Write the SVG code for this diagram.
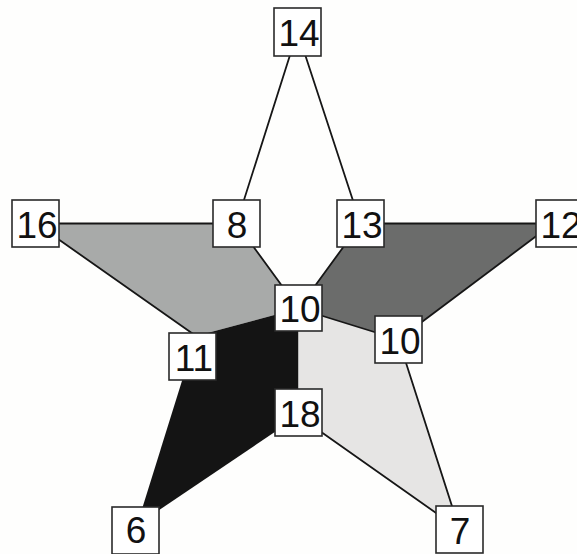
<svg xmlns="http://www.w3.org/2000/svg" width="577" height="554" viewBox="0 0 577 554">
<style>
.box{fill:#ffffff;stroke:#2a2a2a;stroke-width:1.6}
.lbl{font-family:"Liberation Sans",Arial,sans-serif;font-size:37px;fill:#111;text-anchor:middle}
.edge{stroke:#161616;stroke-width:1.8;fill:none;stroke-linecap:round}
</style>
<rect x="0" y="0" width="577" height="554" fill="#fefefd"/>
<g id="faces">
<polygon points="36,223.5 236.5,223.5 298.5,308.5 196,336" fill="#a8aaa9"/>
<polygon points="360.5,223.5 553,223.5 398.5,339.5 298.5,308.5" fill="#6b6c6b"/>
<polygon points="196,336 298.5,308.5 298.5,416 137,525" fill="#141414"/>
<polygon points="298.5,308.5 398.5,339.5 459.5,529.5 298.5,416" fill="#e6e5e4"/>
</g>
<g id="connectors">
<line class="edge" x1="297.5" y1="31.5" x2="236.5" y2="223.5"/>
<line class="edge" x1="297.5" y1="31.5" x2="360.5" y2="223.5"/>
<line class="edge" x1="36" y1="223.5" x2="236.5" y2="223.5"/>
<line class="edge" x1="360.5" y1="223.5" x2="553" y2="223.5"/>
<line class="edge" x1="236.5" y1="223.5" x2="298.5" y2="308.5"/>
<line class="edge" x1="360.5" y1="223.5" x2="298.5" y2="308.5"/>
<line class="edge" x1="36" y1="223.5" x2="196" y2="336"/>
<line class="edge" x1="553" y1="223.5" x2="398.5" y2="339.5"/>
<line class="edge" x1="298.5" y1="308.5" x2="398.5" y2="339.5"/>
<line class="edge" x1="398.5" y1="339.5" x2="459.5" y2="529.5"/>
<line class="edge" x1="298.5" y1="416" x2="459.5" y2="529.5"/>
</g>
<g id="n14"><rect class="box" x="274" y="8" width="47" height="48"/><text class="lbl" x="299" y="46">14</text></g>
<g id="n16"><rect class="box" x="12" y="200" width="47" height="47"/><text class="lbl" x="37" y="238">16</text></g>
<g id="n8"><rect class="box" x="213" y="200" width="47" height="47"/><text class="lbl" x="237" y="238">8</text></g>
<g id="n13"><rect class="box" x="337" y="200" width="47" height="47"/><text class="lbl" x="362" y="238">13</text></g>
<g id="n12"><rect class="box" x="536" y="200" width="47" height="47"/><text class="lbl" x="561" y="238">12</text></g>
<g id="n10c"><rect class="box" x="275" y="285" width="47" height="46"/><text class="lbl" x="300" y="322">10</text></g>
<g id="n10r"><rect class="box" x="375" y="316" width="47" height="47"/><text class="lbl" x="400" y="354">10</text></g>
<g id="n11"><rect class="box" x="169" y="333" width="47" height="47"/><text class="lbl" x="194" y="371">11</text></g>
<g id="n18"><rect class="box" x="275" y="389" width="47" height="47"/><text class="lbl" x="300" y="427">18</text></g>
<g id="n6"><rect class="box" x="112" y="507" width="47" height="47"/><text class="lbl" x="136" y="543">6</text></g>
<g id="n7"><rect class="box" x="436" y="506" width="47" height="47"/><text class="lbl" x="460" y="544">7</text></g>
</svg>
